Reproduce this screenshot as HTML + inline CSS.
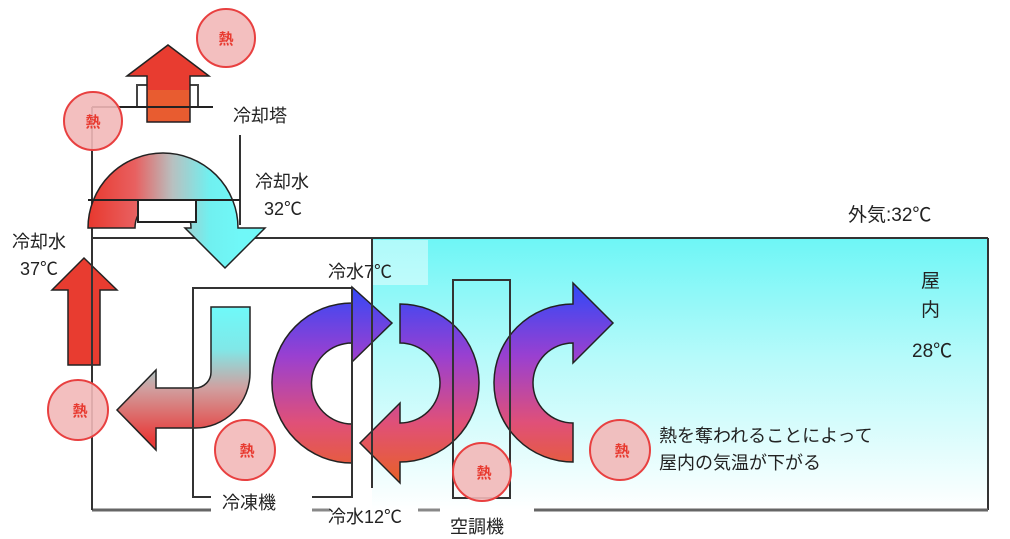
<!DOCTYPE html>
<html><head><meta charset="utf-8"><style>
html,body{margin:0;padding:0;background:#fff;}
svg{display:block;}
text{font-family:"Liberation Sans","Noto Sans CJK JP",sans-serif;fill:#222;}
</style></head><body>
<svg width="1010" height="539" viewBox="0 0 1010 539" xmlns="http://www.w3.org/2000/svg">
<defs>
<linearGradient id="room" x1="0" y1="239" x2="0" y2="510" gradientUnits="userSpaceOnUse">
<stop offset="0" stop-color="#6ef6f6"/><stop offset="0.45" stop-color="#b8fafa"/><stop offset="1" stop-color="#ffffff"/></linearGradient>
<linearGradient id="cw" x1="90" y1="0" x2="240" y2="0" gradientUnits="userSpaceOnUse">
<stop offset="0" stop-color="#e83a30"/><stop offset="0.3" stop-color="#e86060"/><stop offset="0.55" stop-color="#b8c0c0"/><stop offset="0.8" stop-color="#70f0f0"/><stop offset="1" stop-color="#70f8f8"/></linearGradient>
<linearGradient id="jg" x1="0" y1="310" x2="0" y2="440" gradientUnits="userSpaceOnUse">
<stop offset="0" stop-color="#70f8f8"/><stop offset="0.3" stop-color="#80e8e8"/><stop offset="0.6" stop-color="#d0a0a0"/><stop offset="1" stop-color="#e83a38"/></linearGradient>
<linearGradient id="cg" x1="0" y1="290" x2="0" y2="480" gradientUnits="userSpaceOnUse">
<stop offset="0" stop-color="#3848f5"/><stop offset="0.35" stop-color="#9a40d0"/><stop offset="0.7" stop-color="#e05078"/><stop offset="1" stop-color="#e8602a"/></linearGradient>
</defs>

<rect x="372" y="239" width="616" height="271" fill="url(#room)"/>
<rect x="373" y="240" width="55" height="45" fill="#fff" opacity="0.45"/>

<g stroke="#333" stroke-width="2" fill="none">
<line x1="92" y1="238" x2="988" y2="238"/>
<line x1="988" y1="238" x2="988" y2="510"/>
<line x1="92" y1="107" x2="92" y2="510"/>
<line x1="92" y1="510" x2="211" y2="510" stroke="#666" stroke-width="3"/>
<line x1="312" y1="510" x2="330" y2="510" stroke="#888" stroke-width="3"/>
<line x1="418" y1="510" x2="440" y2="510" stroke="#888" stroke-width="3"/>
<line x1="534" y1="510" x2="988" y2="510" stroke="#666" stroke-width="3"/>
<polyline points="211,497 193,497 193,288 352,288 352,497 312,497"/>
<line x1="372" y1="238" x2="372" y2="488"/>
<rect x="453" y="280" width="57" height="218"/>
<line x1="92" y1="107" x2="213" y2="107"/>
<line x1="240" y1="135" x2="240" y2="225"/>
<line x1="88" y1="200" x2="240" y2="200"/>
</g>

<rect x="137" y="85" width="61" height="22" fill="none" stroke="#444" stroke-width="2"/>
<path d="M168,45 L209,76 L190,76 L190,122 L147,122 L147,76 L127,76 Z" fill="#e83c30" stroke="#222" stroke-width="1.5"/>
<rect x="148" y="90" width="41" height="31" fill="#e85c30"/>
<line x1="92" y1="107" x2="213" y2="107" stroke="#222" stroke-width="2"/>

<path d="M88,228 A75,75 0 0,1 238,228 L265,228 L225,268 L185,228 L191,228 A28,28 0 0,0 135,228 Z" fill="url(#cw)" stroke="#222" stroke-width="1.5"/>
<rect x="138" y="200" width="58" height="22" fill="#fff" stroke="#222" stroke-width="2"/>
<line x1="88" y1="200" x2="240" y2="200" stroke="#222" stroke-width="2"/>

<path d="M68,365 L100,365 L100,290 L117,290 L84,258 L52,290 L68,290 Z" fill="#e83c30" stroke="#222" stroke-width="1.5"/>

<path d="M211,307 L250,307 L250,373 A55,55 0 0,1 195,428 L156,428 L156,450 L117,410 L156,370 L156,388 L195,388 A16,16 0 0,0 211,372 Z" fill="url(#jg)" stroke="#222" stroke-width="1.5"/>

<path d="M352,343 L352,362 L392,323 L352,287 L352,303 A80,80 0 1,0 352,463 L352,424 A40,40 0 1,1 352,343 Z" fill="url(#cg)" stroke="#222" stroke-width="1.5"/>
<path d="M400,304 A79,79 0 1,1 400,462 L400,483 L360,443 L400,403 L400,423 A40,40 0 1,0 400,343 Z" fill="url(#cg)" stroke="#222" stroke-width="1.5"/>
<path d="M573,343 L573,363 L613,323 L573,283 L573,304 A79,79 0 1,0 573,462 L573,423 A40,40 0 1,1 573,343 Z" fill="url(#cg)" stroke="#222" stroke-width="1.5"/>
<g stroke="#333" stroke-width="2" fill="none">
<line x1="352" y1="288" x2="352" y2="497"/>
<line x1="372" y1="238" x2="372" y2="488"/>
<rect x="453" y="280" width="57" height="218"/>
<line x1="193" y1="288" x2="193" y2="497"/>
<line x1="92" y1="238" x2="92" y2="510"/>
</g>

<g fill="#f2b8b8" fill-opacity="0.9" stroke="#e84040" stroke-width="2">
<circle cx="226" cy="38" r="29"/>
<circle cx="93" cy="121" r="29"/>
<circle cx="78" cy="410" r="30"/>
<circle cx="245" cy="450" r="30"/>
<circle cx="482" cy="472" r="29"/>
<circle cx="620" cy="450" r="30"/>
</g>
<g font-size="15" font-weight="bold" text-anchor="middle">
<text x="226" y="44" style="fill:#e83a30">熱</text>
<text x="93" y="127" style="fill:#e83a30">熱</text>
<text x="80" y="416" style="fill:#e83a30">熱</text>
<text x="247" y="456" style="fill:#e83a30">熱</text>
<text x="484" y="478" style="fill:#e83a30">熱</text>
<text x="622" y="456" style="fill:#e83a30">熱</text>
</g>

<g font-size="18">
<text x="233" y="122">冷却塔</text>
<text x="255" y="188">冷却水</text>
<text x="264" y="215">32℃</text>
<text x="12" y="248">冷却水</text>
<text x="20" y="275">37℃</text>
<text x="848" y="221" font-size="19">外気:32℃</text>
<text x="328" y="278">冷水7℃</text>
<text x="921" y="287" font-size="19">屋</text>
<text x="921" y="316" font-size="19">内</text>
<text x="912" y="357" font-size="19">28℃</text>
<text x="659" y="442">熱を奪われることによって</text>
<text x="659" y="469">屋内の気温が下がる</text>
<text x="222" y="509">冷凍機</text>
<text x="328" y="523">冷水12℃</text>
<text x="450" y="533">空調機</text>
</g>
</svg>
</body></html>
